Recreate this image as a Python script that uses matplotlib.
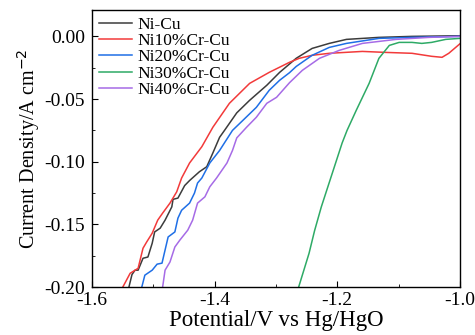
#!/usr/bin/env python3
"""LSV curves of Ni-Cu and NiCr-Cu electrodes."""

import matplotlib

matplotlib.use('Agg')
import matplotlib.pyplot as plt
from matplotlib.ticker import MultipleLocator, FormatStrFormatter

labels = ['Ni-Cu', 'Ni10%Cr-Cu', 'Ni20%Cr-Cu', 'Ni30%Cr-Cu', 'Ni40%Cr-Cu']
colors = ['#3c3c3c', '#f23a3a', '#1f6fe6', '#2eaa66', '#a66be6']

# potential (V vs Hg/HgO) and current density (A cm^-2)
v_nicu = [-1.540, -1.535, -1.530, -1.525, -1.517, -1.509, -1.502, -1.498, -1.489,
          -1.481, -1.470, -1.468, -1.460, -1.449, -1.441, -1.425, -1.413, -1.403,
          -1.392, -1.384, -1.364, -1.343, -1.315, -1.294, -1.267, -1.241, -1.213,
          -1.185, -1.132, -1.078, -1.000]
j_nicu = [-0.200, -0.190, -0.1865, -0.1865, -0.177, -0.176, -0.165, -0.156, -0.153,
          -0.1466, -0.136, -0.130, -0.129, -0.119, -0.115, -0.108, -0.104, -0.093,
          -0.0805, -0.075, -0.061, -0.051, -0.039, -0.0287, -0.0175, -0.0096, -0.0056,
          -0.0024, -0.0008, 0.0, 0.0005]

v_ni10 = [-1.550, -1.538, -1.525, -1.517, -1.511, -1.502, -1.493, -1.485, -1.473,
          -1.462, -1.454, -1.441, -1.421, -1.403, -1.376, -1.343, -1.311, -1.278,
          -1.262, -1.241, -1.213, -1.159, -1.120, -1.078, -1.046, -1.029, -1.018,
          -1.000]
j_ni10 = [-0.200, -0.189, -0.185, -0.169, -0.164, -0.157, -0.1466, -0.141, -0.133,
          -0.124, -0.113, -0.101, -0.088, -0.0725, -0.0534, -0.0375, -0.0287, -0.0207,
          -0.0175, -0.0151, -0.0135, -0.0120, -0.0128, -0.0135, -0.0159, -0.0167,
          -0.0135, -0.0060]

v_ni20 = [-1.519, -1.514, -1.502, -1.494, -1.486, -1.476, -1.465, -1.460, -1.454,
          -1.441, -1.433, -1.428, -1.421, -1.408, -1.392, -1.371, -1.354, -1.332,
          -1.311, -1.294, -1.278, -1.267, -1.241, -1.213, -1.185, -1.132, -1.078,
          -1.000]
j_ni20 = [-0.200, -0.1905, -0.1865, -0.1817, -0.1809, -0.160, -0.156, -0.145, -0.1387,
          -0.133, -0.125, -0.117, -0.113, -0.101, -0.091, -0.075, -0.067, -0.0566,
          -0.043, -0.035, -0.029, -0.024, -0.0151, -0.0088, -0.0056, -0.0016, -0.0008,
          0.0]

v_ni30 = [-1.263, -1.246, -1.237, -1.226, -1.208, -1.192, -1.184, -1.169, -1.148,
          -1.132, -1.115, -1.099, -1.078, -1.062, -1.046, -1.023, -1.000]
j_ni30 = [-0.200, -0.173, -0.155, -0.136, -0.109, -0.085, -0.075, -0.059, -0.0375,
          -0.0175, -0.0072, -0.0048, -0.0048, -0.0056, -0.0048, -0.0024, -0.0016]

v_ni40 = [-1.485, -1.481, -1.473, -1.465, -1.457, -1.444, -1.436, -1.428, -1.416,
          -1.408, -1.397, -1.380, -1.371, -1.364, -1.348, -1.332, -1.315, -1.299,
          -1.278, -1.257, -1.229, -1.197, -1.159, -1.104, -1.050, -1.000]
j_ni40 = [-0.200, -0.1865, -0.180, -0.168, -0.1626, -0.1546, -0.1466, -0.133, -0.128,
          -0.120, -0.113, -0.101, -0.091, -0.081, -0.0725, -0.0645, -0.0534, -0.0486,
          -0.037, -0.0271, -0.0175, -0.0112, -0.0056, -0.0024, -0.0008, 0.0]

plt.rcParams['font.family'] = ['Liberation Serif', 'DejaVu Serif']
plt.rcParams['axes.unicode_minus'] = False

fig = plt.figure(figsize=(4.75, 3.35), dpi=100)
ax = fig.add_axes([0.194, 0.143, 0.774, 0.827])

series = [(v_nicu, j_nicu), (v_ni10, j_ni10), (v_ni20, j_ni20),
          (v_ni30, j_ni30), (v_ni40, j_ni40)]
for (v, j), lab, c in zip(series, labels, colors):
    ax.plot(v, j, color=c, lw=1.1, label=lab)

ax.set_xlim(-1.6, -1.0)
ax.set_ylim(-0.2, 0.021)
ax.xaxis.set_major_locator(MultipleLocator(0.2))
ax.xaxis.set_minor_locator(MultipleLocator(0.1))
ax.yaxis.set_major_locator(MultipleLocator(0.05))
ax.yaxis.set_minor_locator(MultipleLocator(0.025))
ax.xaxis.set_major_formatter(FormatStrFormatter('%.1f'))
ax.yaxis.set_major_formatter(FormatStrFormatter('%.2f'))
ax.tick_params(which='both', direction='in', labelsize=14, top=False, right=False)
ax.tick_params(which='major', length=4)
ax.tick_params(which='minor', length=2)
ax.tick_params(axis='y', pad=5)
for s in ax.spines.values():
    s.set_linewidth(1.0)

ax.set_xlabel('Potential/V vs Hg/HgO', fontsize=16.5, labelpad=1)
ax.set_ylabel('Current Density/A cm$^{-2}$', fontsize=14.5, labelpad=2)

ax.legend(loc='upper left', frameon=False, fontsize=12.5, handlelength=1.9,
          borderaxespad=0.3, labelspacing=0.0, handletextpad=0.3,
          borderpad=0.1)

fig.savefig('out.png', dpi=100)
